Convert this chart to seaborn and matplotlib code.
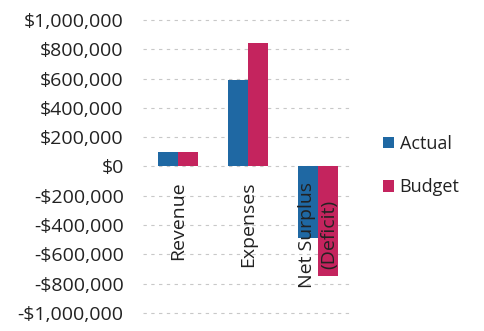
import matplotlib
matplotlib.use("Agg")
import matplotlib.pyplot as plt
import seaborn as sns
import pandas as pd
from matplotlib.ticker import FuncFormatter, MultipleLocator
from matplotlib.patches import Patch

categories = ["Revenue", "Expenses", "Net Surplus\n(Deficit)"]
series = ["Actual", "Budget"]
actual = [100000, 588000, -488000]
budget = [100000, 845000, -745000]
colors = ["#1f68a3", "#c4245e"]

df = pd.DataFrame({
    "category": categories * 2,
    "series": [series[0]] * 3 + [series[1]] * 3,
    "value": actual + budget,
})

sns.set_theme(style="white")
plt.rcParams["font.family"] = ["Open Sans", "DejaVu Sans"]

fig = plt.figure(figsize=(4.85, 3.31), dpi=100)
ax = fig.add_axes([0.295, 0.054, 0.433, 0.886])

sns.barplot(data=df, x="category", y="value", hue="series", palette=colors,
            width=0.57, saturation=1, ax=ax, legend=False, zorder=2,
            linewidth=0, edgecolor="none")

ax.set_ylim(-1000000, 1000000)
ax.yaxis.set_major_locator(MultipleLocator(200000))

def fmt(v, pos):
    v = int(round(v))
    if v < 0:
        return "-${:,}".format(-v)
    return "${:,}".format(v)

ax.yaxis.set_major_formatter(FuncFormatter(fmt))
ax.grid(axis="y", color="#c8c8c8", linestyle=(0, (3, 4)), linewidth=0.8, zorder=0)
ax.set_axisbelow(True)
ax.xaxis.set_zorder(5)

for s in ["top", "right", "left"]:
    ax.spines[s].set_visible(False)
ax.spines["bottom"].set_position(("data", 0))
ax.spines["bottom"].set_visible(False)

ax.tick_params(axis="y", length=0, labelsize=14, pad=14, colors="#222222")
ax.tick_params(axis="x", length=0, labelsize=14, pad=11, colors="#222222")
plt.setp(ax.get_xticklabels(), rotation=90, va="top", ha="center",
         multialignment="center", linespacing=1.35)
for gl in ax.get_ygridlines():
    gl.set_clip_on(False)
ax.set_xlabel("")
ax.set_ylabel("")

handles = [Patch(facecolor=c, edgecolor="none") for c in colors]
fig.legend(handles, series, loc="center left", bbox_to_anchor=(0.757, 0.50),
           frameon=False, fontsize=13, handlelength=0.6, handleheight=0.6,
           handletextpad=0.3, labelspacing=1.4, labelcolor="#222222")

fig.savefig("out.png", dpi=100)
